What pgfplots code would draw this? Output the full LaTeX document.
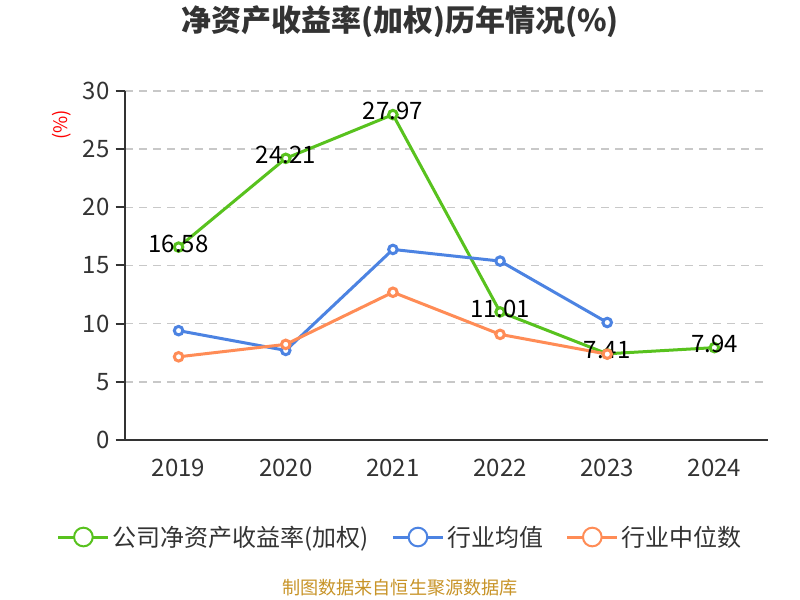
\documentclass[border=0pt]{standalone}
\usepackage{pgfplots}
\pgfplotsset{compat=1.18}
\usepackage{fontspec}
\setmainfont{Noto Sans CJK SC}
\definecolor{cgreen}{RGB}{88,194,30}
\definecolor{cblue}{RGB}{76,131,226}
\definecolor{corange}{RGB}{255,140,86}
\definecolor{ctext}{RGB}{51,51,51}
\definecolor{caxis}{RGB}{51,51,51}
\definecolor{cgrid}{RGB}{200,200,200}
\definecolor{csrc}{RGB}{200,148,40}
\begin{document}
\begin{tikzpicture}[x=0.75pt,y=0.75pt]
\path[use as bounding box, fill=white] (0,0) rectangle (800,600);
\begin{axis}[
  at={(93.75pt,120pt)}, anchor=south west,
  scale only axis, width=482.25pt, height=261.75pt,
  xmin=-0.5, xmax=5.5, ymin=0, ymax=30,
  axis lines*=left,
  axis line style={draw=caxis, line width=1.5pt},
  xtick={0,1,2,3,4,5},
  xticklabels={2019,2020,2021,2022,2023,2024},
  extra x ticks={-0.5,0.5,1.5,2.5,3.5,4.5,5.5},
  extra x tick labels={},
  extra x tick style={major tick length=6pt, xmajorgrids=false},
  ytick={0,5,10,15,20,25,30},
  ymajorgrids,
  grid style={draw=cgrid, line width=1.1pt, dash pattern=on 6pt off 4.5pt},
  tick align=outside,
  major tick style={draw=caxis, line width=1.5pt},
  major tick length=7pt,
  xtick style={draw=none},
  extra x tick style={major tick style={draw=caxis, line width=1.5pt}},
  tick label style={font=\fontsize{18pt}{20pt}\selectfont, text=ctext},
  xticklabel style={yshift=-4pt},
  yticklabel style={xshift=-1pt},
  /pgf/number format/assume math mode=true,
  clip=false,
  legend columns=3,
  legend style={at={(0.4285,-0.278)}, anchor=center, draw=none, fill=none,
    font=\fontsize{18pt}{20pt}\selectfont, text=ctext,
    /tikz/every even column/.append style={column sep=15pt},
    inner sep=0pt},
  legend image code/.code={
    \draw[#1, mark=none] (0pt,0pt) -- (37.5pt,0pt);
    \draw[#1, mark=none, fill=white, line width=1.5pt] (18.75pt,0pt) circle (7pt);
  },
  every axis plot/.append style={line width=2.25pt, mark=o,
    mark size=3.2pt, mark options={fill=white, line width=1.2pt, solid}},
]
\addplot[cgreen, mark=*, mark options={fill=white, draw=cgreen},
  nodes near coords, point meta=y,
  every node near coord/.append style={anchor=center, yshift=2.5pt, text=black,
    font=\fontsize{18pt}{20pt}\selectfont,
    /pgf/number format/.cd, fixed, fixed zerofill, precision=2, assume math mode=true}]
  coordinates {(0,16.58) (1,24.21) (2,27.97) (3,11.01) (4,7.41) (5,7.94)};
\addlegendentry{公司净资产收益率(加权)}
\addplot[cblue, mark=*, mark options={fill=white, draw=cblue}]
  coordinates {(0,9.40) (1,7.70) (2,16.38) (3,15.38) (4,10.10)};
\addlegendentry{行业均值}
\addplot[corange, mark=*, mark options={fill=white, draw=corange}]
  coordinates {(0,7.15) (1,8.22) (2,12.70) (3,9.08) (4,7.38)};
\addlegendentry{行业中位数}
\end{axis}
\node[font=\bfseries\fontsize{22.5pt}{25pt}\selectfont, text=ctext] at (400,578) {净资产收益率(加权)历年情况(\%)};
\node[rotate=90, font=\fontsize{14pt}{16pt}\selectfont, text=red] at (62,475) {(\%)};
\node[font=\fontsize{13.6pt}{15pt}\selectfont, text=csrc] at (400,12) {制图数据来自恒生聚源数据库};
\end{tikzpicture}
\end{document}
